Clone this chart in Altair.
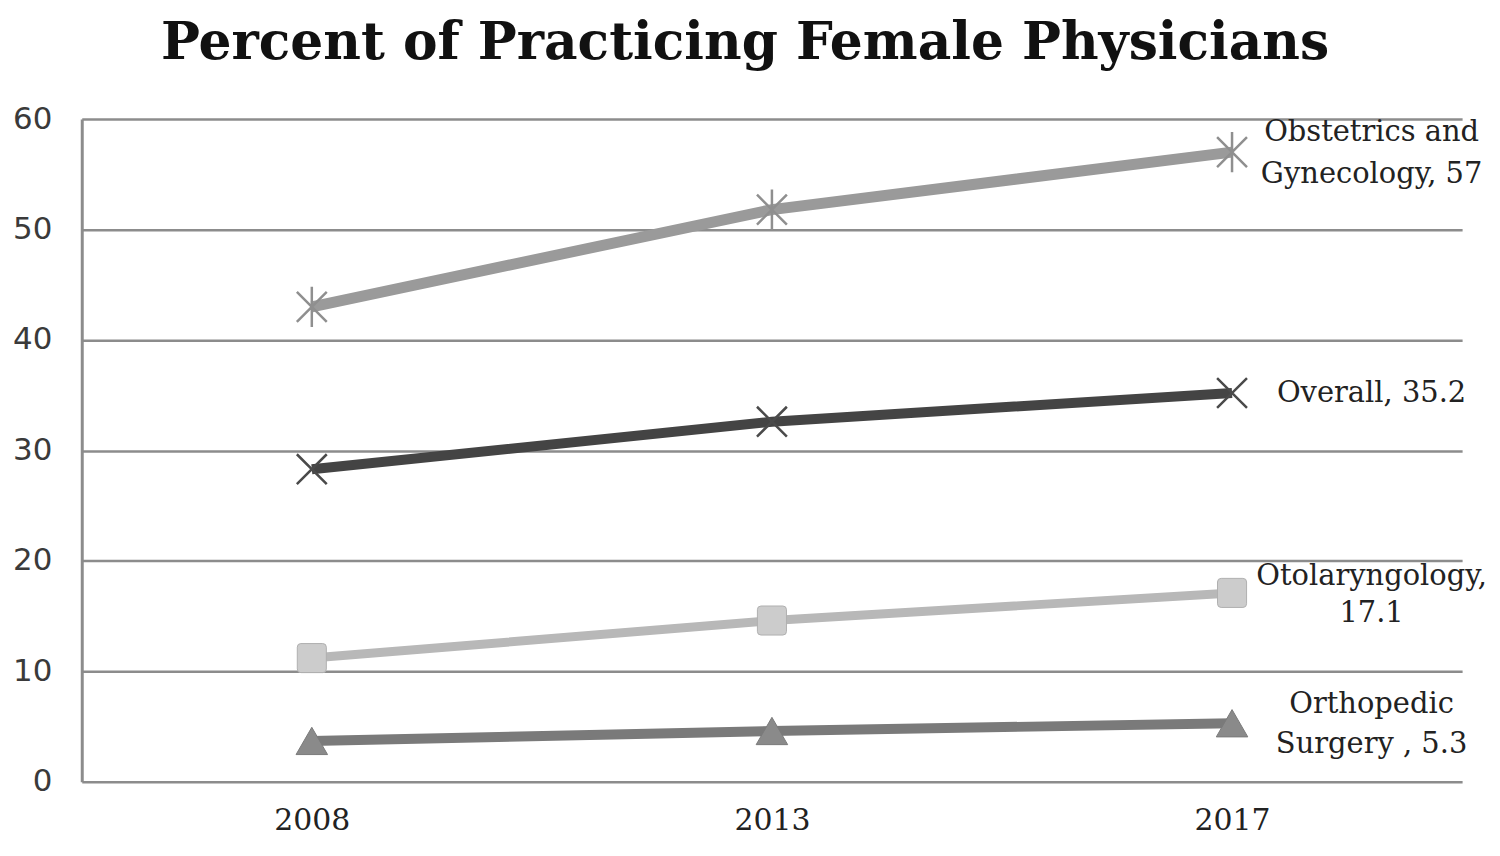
import altair as alt
import pandas as pd

years = ["2008", "2013", "2017"]
series = ["Obstetrics and Gynecology", "Overall", "Otolaryngology", "Orthopedic Surgery"]
obgyn = [43.0, 51.8, 57.0]
overall = [28.3, 32.6, 35.2]
oto = [11.2, 14.6, 17.1]
ortho = [3.7, 4.6, 5.3]
end_labels = ["Obstetrics and\nGynecology, 57", "Overall, 35.2",
              "Otolaryngology,\n17.1", "Orthopedic\nSurgery , 5.3"]
y_ticks = [0, 10, 20, 30, 40, 50, 60]

values = [obgyn, overall, oto, ortho]

ASTER = "M-1,-1L1,1M-1,1L1,-1M0,-1.35L0,1.35"
XMARK = "M-1,-1L1,1M-1,1L1,-1"
RSQUARE = ("M-0.75,-1L0.75,-1Q1,-1,1,-0.75L1,0.75Q1,1,0.75,1L-0.75,1"
           "Q-1,1,-1,0.75L-1,-0.75Q-1,-1,-0.75,-1Z")

styles = {
    "Obstetrics and Gynecology": dict(color="#9a9a9a", width=11, shape=ASTER, filled=False,
                                      size=900, fill="#9a9a9a", stroke="#8f8f8f", sw=2.5,
                                      dy=-20, lh=42),
    "Overall": dict(color="#444444", width=10, shape=XMARK, filled=False,
                    size=900, fill="#444444", stroke="#4a4a4a", sw=2.5, dy=0, lh=40),
    "Otolaryngology": dict(color="#b8b8b8", width=9, shape=RSQUARE, filled=True,
                           size=850, fill="#cccccc", stroke="#b0b0b0", sw=1, dy=-17, lh=37),
    "Orthopedic Surgery": dict(color="#7a7a7a", width=10, shape="triangle-up", filled=True,
                               size=1000, fill="#8a8a8a", stroke="#7a7a7a", sw=1, dy=-19, lh=40),
}

x_enc = alt.X("year:O", scale=alt.Scale(type="point", padding=0.5),
              axis=alt.Axis(labelAngle=0, title=None, domain=False, ticks=False, grid=False,
                            labelFont="DejaVu Serif", labelFontSize=30, labelPadding=24,
                            labelColor="#222222"))
y_enc = alt.Y("value:Q", scale=alt.Scale(domain=[0, 60], nice=False),
              axis=alt.Axis(values=y_ticks, title=None, grid=True, gridColor="#8c8c8c",
                            gridWidth=2.5, domainColor="#8c8c8c", domainWidth=3, ticks=False,
                            labelFont="DejaVu Sans", labelFontSize=31, labelPadding=30,
                            labelColor="#3a3a3a"))

layers = []
for name, vals, lab in zip(series, values, end_labels):
    st = styles[name]
    df = pd.DataFrame({"year": years, "value": vals, "series": name})
    base = alt.Chart(df).encode(x=x_enc, y=y_enc)
    layers.append(base.mark_line(color=st["color"], strokeWidth=st["width"]))
    if st["filled"]:
        layers.append(base.mark_point(shape=st["shape"], size=st["size"], filled=True,
                                      fill=st["fill"], stroke=st["stroke"],
                                      strokeWidth=st["sw"], opacity=1))
    else:
        layers.append(base.mark_point(shape=st["shape"], size=st["size"], filled=False,
                                      stroke=st["stroke"], strokeWidth=st["sw"], opacity=1))
    ldf = pd.DataFrame({"year": [years[-1]], "value": [vals[-1]], "label": [lab]})
    layers.append(alt.Chart(ldf).mark_text(align="center", baseline="middle", dx=140,
                                           dy=st["dy"], font="DejaVu Serif", fontSize=29,
                                           lineHeight=st["lh"], lineBreak="\n",
                                           color="#222222")
                  .encode(x=x_enc, y=y_enc, text="label:N"))

chart = alt.layer(*layers).properties(
    width=1385, height=665,
    title=alt.TitleParams("Percent of Practicing Female Physicians", font="DejaVu Serif",
                          fontSize=52, fontWeight="bold", color="#111111", anchor="middle",
                          dx=-27, offset=33),
    autosize=alt.AutoSizeParams(type="none"),
    padding={"left": 74, "top": 110, "right": 30, "bottom": 60},
).configure_view(stroke=None)

chart.save("out.html", embed_options={"renderer": "svg", "actions": False})
